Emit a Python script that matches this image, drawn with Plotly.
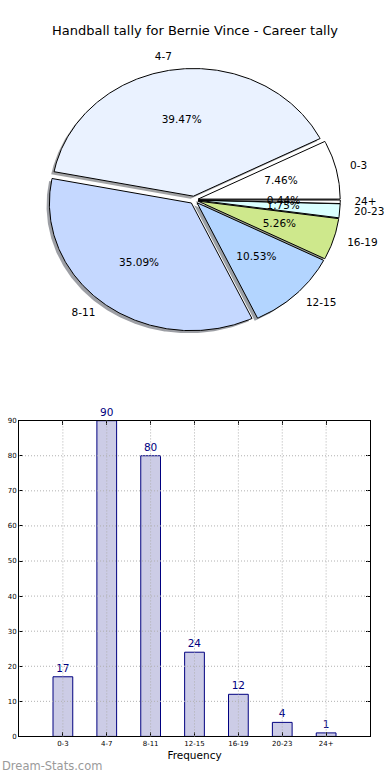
import numpy as np
import plotly.graph_objects as go

# ---------------- data ----------------
categories = ["0-3", "4-7", "8-11", "12-15", "16-19", "20-23", "24+"]
counts = [17, 90, 80, 24, 12, 4, 1]
y_ticks = [0, 10, 20, 30, 40, 50, 60, 70, 80, 90]

# ---------------- styles ----------------
slice_colors = ["#FFFFFF", "#EAF2FF", "#C5D8FF", "#B3D5FF", "#CEE88C", "#DAFFFF", "#FFFFFF"]
explode = [0.03, 0.03, 0.03, 0.03, 0.03, 0.03, 0.03]
W, H = 390, 780
CX, CY, RX, RY = 194.0, 198.0, 142.0, 129.0   # pie centre / radii in px
PIE_TOP_PX = 390.0                           # pie axes occupy pixel rows 0..390
BAR_L, BAR_R, BAR_T, BAR_B = 19, 370, 421, 740
FONT = "DejaVu Sans"
NAVY = "#000080"
GRID = dict(color="#b0b0b0", width=1, dash="1px,2px")

fig = go.Figure()

# ---------------- pie drawn as wedges on its own (elliptical) axes ----------------
total = float(sum(counts))
fracs = [c / total for c in counts]
wedges = []
t0 = 0.0
for i, f in enumerate(fracs):
    t1 = t0 + 360.0 * f
    mid = np.radians((t0 + t1) / 2.0)
    ox, oy = explode[i] * np.cos(mid), explode[i] * np.sin(mid)
    n = max(int(t1 - t0) * 2 + 2, 4)
    ang = np.radians(np.linspace(t0, t1, n))
    xs = np.concatenate([[ox], ox + np.cos(ang), [ox]])
    ys = np.concatenate([[oy], oy + np.sin(ang), [oy]])
    wedges.append((xs, ys, mid, ox, oy))
    t0 = t1

def shadow_color(hexc):
    r, g, b = int(hexc[1:3], 16), int(hexc[3:5], 16), int(hexc[5:7], 16)
    return "rgba(%d,%d,%d,0.5)" % (0.3 * r, 0.3 * g, 0.3 * b)

for i, (xs, ys, mid, ox, oy) in enumerate(wedges):
    fig.add_trace(go.Scatter(x=xs - 0.02, y=ys - 0.02, mode="lines", fill="toself",
                             fillcolor=shadow_color(slice_colors[i]),
                             line=dict(width=0, color="rgba(0,0,0,0)"),
                             xaxis="x2", yaxis="y2", hoverinfo="skip", showlegend=False))
for i, (xs, ys, mid, ox, oy) in enumerate(wedges):
    fig.add_trace(go.Scatter(x=xs, y=ys, mode="lines", fill="toself",
                             fillcolor=slice_colors[i], line=dict(width=1, color="#000000"),
                             xaxis="x2", yaxis="y2", name=categories[i],
                             hoverinfo="name", showlegend=False))

# percentage labels and category labels
px_, py_, ptxt = [], [], []
lx, ly, lpos = [], [], []
for i, (xs, ys, mid, ox, oy) in enumerate(wedges):
    px_.append(ox + 0.6 * np.cos(mid))
    py_.append(oy + 0.6 * np.sin(mid))
    ptxt.append("%.2f%%" % (fracs[i] * 100))
    x_l = ox + 1.1 * np.cos(mid)
    lx.append(x_l)
    ly.append(oy + 1.1 * np.sin(mid))
    lpos.append("middle right" if x_l > 0 else "middle left")

fig.add_trace(go.Scatter(x=px_, y=py_, mode="text", text=ptxt, textposition="middle center",
                         textfont=dict(family=FONT, size=10.5, color="#000000"),
                         xaxis="x2", yaxis="y2", hoverinfo="skip", showlegend=False))
fig.add_trace(go.Scatter(x=lx, y=ly, mode="text", text=categories, textposition=lpos,
                         textfont=dict(family=FONT, size=10.5, color="#000000"),
                         xaxis="x2", yaxis="y2", hoverinfo="skip", showlegend=False))

# ---------------- bar chart ----------------
fig.add_trace(go.Bar(x=list(range(len(categories))), y=counts, width=0.45,
                     marker=dict(color="#CCCCE6", line=dict(color=NAVY, width=1)),
                     text=[str(c) for c in counts], textposition="outside",
                     textfont=dict(family=FONT, size=10.5, color=NAVY),
                     cliponaxis=False, xaxis="x", yaxis="y", showlegend=False))

# dotted grid drawn above the bars (as in the reference)
shapes = []
for i in range(len(categories)):
    shapes.append(dict(type="line", xref="x", yref="y domain", x0=i, x1=i, y0=0, y1=1,
                       layer="above", line=GRID))
for v in y_ticks[1:-1]:
    shapes.append(dict(type="line", xref="x domain", yref="y", x0=0, x1=1, y0=v, y1=v,
                       layer="above", line=GRID))

pie_x_range = [-CX / RX, (W - CX) / RX]
pie_y_range = [-(PIE_TOP_PX - CY) / RY, CY / RY]

fig.update_layout(
    width=W, height=H,
    margin=dict(l=0, r=0, t=0, b=0),
    paper_bgcolor="white", plot_bgcolor="white",
    font=dict(family=FONT, color="#000000"),
    title=dict(text="Handball tally for Bernie Vince - Career tally",
               x=0.5, xref="container", xanchor="center",
               y=1 - 30.0 / H, yref="container", yanchor="middle",
               font=dict(family=FONT, size=13, color="#000000")),
    xaxis=dict(domain=[BAR_L / W, BAR_R / W], range=[-1, len(categories)],
               tickmode="array", tickvals=list(range(len(categories))), ticktext=categories,
               tickfont=dict(size=7, color="#000000"),
               showline=True, linecolor="#000000", linewidth=1, mirror="ticks",
               ticks="inside", ticklen=4, tickcolor="#000000",
               showgrid=False, zeroline=False, fixedrange=True,
               title=dict(text="Frequency", font=dict(size=10.5), standoff=4)),
    yaxis=dict(domain=[1 - BAR_B / H, 1 - BAR_T / H], range=[0, 90],
               tickmode="array", tickvals=y_ticks, tickfont=dict(size=7, color="#000000"),
               showline=True, linecolor="#000000", linewidth=1, mirror="ticks",
               ticks="inside", ticklen=4, tickcolor="#000000",
               showgrid=False, zeroline=False, fixedrange=True),
    xaxis2=dict(domain=[0, 1], range=pie_x_range, visible=False, fixedrange=True,
                anchor="y2"),
    yaxis2=dict(domain=[1 - PIE_TOP_PX / H, 1], range=pie_y_range, visible=False,
                fixedrange=True, anchor="x2"),
    shapes=shapes,
    annotations=[dict(text="Dream-Stats.com", xref="paper", yref="paper",
                      x=0, y=1 - 770.0 / H, xanchor="left", yanchor="middle",
                      showarrow=False, font=dict(family=FONT, size=11.5, color="#9a9a9a"))],
)

fig.write_html("out.html", config={"displayModeBar": False},
               post_script="document.body.style.margin='0';document.body.style.overflow='hidden';")
